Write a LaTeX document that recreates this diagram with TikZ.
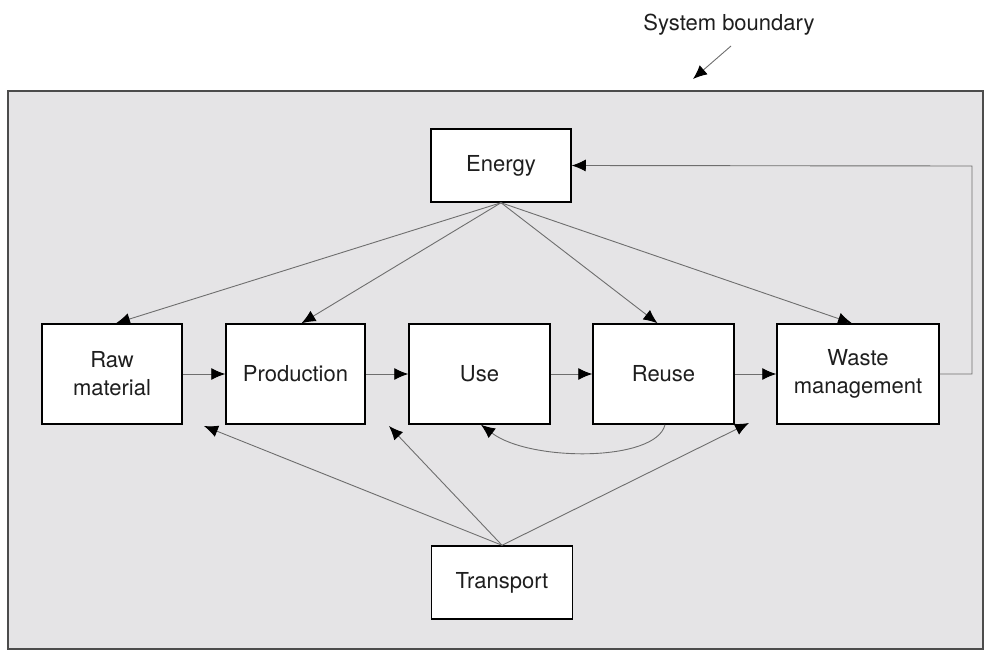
\documentclass[tikz,border=0pt]{standalone}
\usepackage{fontspec}
\setmainfont{TeX Gyre Heros}
\usetikzlibrary{arrows.meta}
\usetikzlibrary{positioning}
\definecolor{boundaryfill}{RGB}{229,228,230}
\definecolor{linkgray}{RGB}{110,110,110}
\definecolor{textdark}{RGB}{30,30,30}
\tikzset {
  % connector with a filled tip
  link/.style = {
    draw = linkgray,
    line width = 0.9pt,
    -{Latex[length=14pt,width=12pt,black]}
  },
  % connector without a tip
  nlink/.style = {
    draw = linkgray,
    line width = 0.9pt
  }
}
\tikzset {
  % one stage of the life cycle
  stage/.style = {
    draw = black,
    fill = white,
    line width = 1.5pt,
    rectangle,
    align = center,
    text = textdark,
    minimum width = 140pt,
    minimum height = 100pt,
    font = \fontsize{22}{28}\selectfont
  },
  % side input (energy, transport)
  input/.style = {
    stage,
    minimum height = 73pt
  },
  node distance = 42.5pt
}

\begin{document}
\begin{tikzpicture}[x=1pt, y=-1pt]
    \useasboundingbox (0,0) rectangle (989,656);

    % system boundary
    \draw[draw = black!70, fill = boundaryfill, line width = 1.5pt]
    (8,91) rectangle (983,649);
    \node[text = textdark, font = \fontsize{22}{26}\selectfont]
    (boundary-label) at (729,25) {System boundary};
    \coordinate (boundary-tip) at (693,79);
    \draw[link] (731,46) -- (boundary-tip);

    \node[stage] (raw) at (112,374) {Raw\\material};
    \node[stage, minimum width = 139pt] (production) [right=of raw] {Production};
    \node[stage, minimum width = 141pt] (use) [right=of production] {Use};
    \node[stage, minimum width = 141pt] (reuse) [right=41.5pt of use] {Reuse};
    \node[stage, minimum width = 162pt] (waste) [right=41.5pt of reuse] {Waste\\management};
    \node[input] (energy) at (501,165.5) {Energy};
    \node[input, minimum width = 141pt] (transport) at (502,582.5) {Transport};
    \coordinate (loop-corner) at (972,166);
    \coordinate (raw-gap) at (204,426);
    \coordinate (production-gap) at (389,426);
    \coordinate (reuse-gap) at (749,423);

    \draw[link] (raw) -- (production);
    \draw[link] (production) -- (use);
    \draw[link] (use) -- (reuse);
    \draw[link] (reuse) -- (waste);

    \draw[link] (energy.south) -- ([xshift=4pt]raw.north);
    \draw[link] (energy.south) -- ([xshift=6pt]production.north);
    \draw[link] (energy.south) -- ([xshift=-6pt]reuse.north);
    \draw[link] (energy.south) -- ([xshift=-6pt]waste.north);

    \draw[link] (waste.east)
    -| (loop-corner)
    -- (energy.east);

    \draw[link] ([xshift=1.5pt]reuse.south)
    .. controls (656,462) and (530,462) ..
    ([xshift=1.5pt]use.south);

    \draw[link] (transport.north) -- (raw-gap);
    \draw[link] (transport.north) -- (production-gap);
    \draw[link] (transport.north) -- (reuse-gap);
  \end{tikzpicture}
\end{document}
